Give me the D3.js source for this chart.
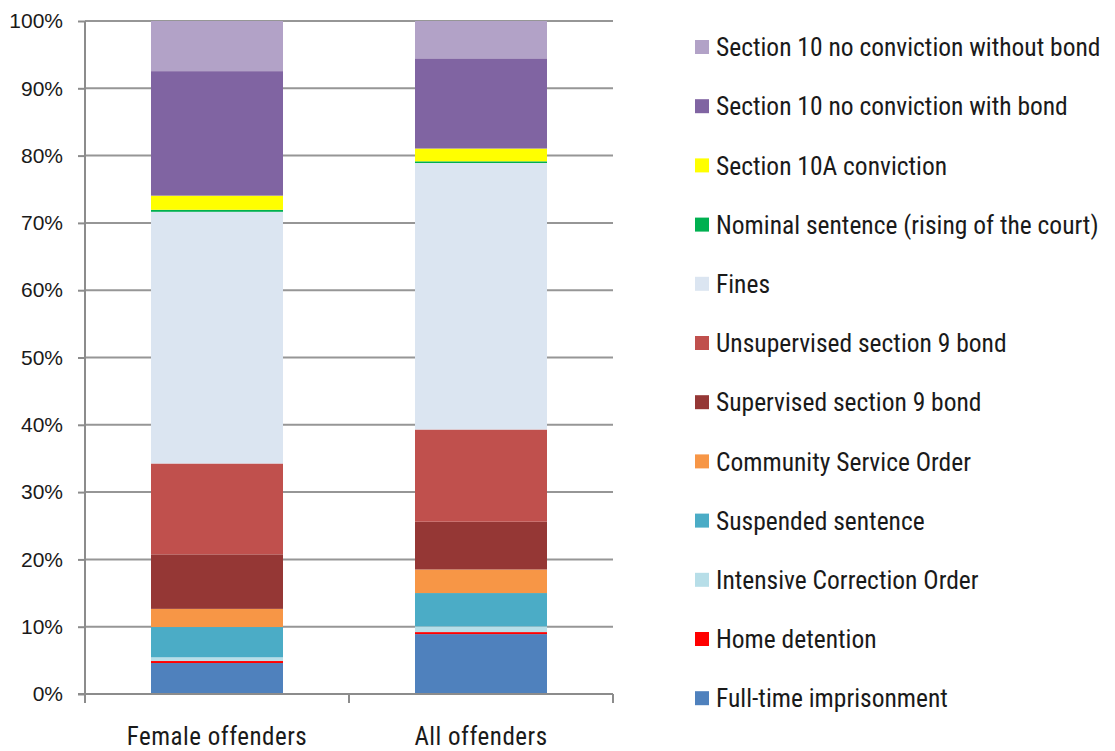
<!DOCTYPE html>
<html><head><meta charset="utf-8">
<script src="https://cdn.jsdelivr.net/npm/d3@7"></script>
<style>body{margin:0;background:#fff}svg{display:block}</style>
</head><body><svg id="c" width="1115" height="751"></svg>
<script>
const categories = ["Female offenders", "All offenders"];
const seriesNames = ["Full-time imprisonment","Home detention","Intensive Correction Order","Suspended sentence","Community Service Order","Supervised section 9 bond","Unsupervised section 9 bond","Fines","Nominal sentence (rising of the court)","Section 10A conviction","Section 10 no conviction with bond","Section 10 no conviction without bond"];
const seriesColors = ["#4F81BD","#FF0000","#B7DEE8","#4BACC6","#F79646","#953735","#C0504D","#DBE5F1","#00B050","#FFFF00","#8064A2","#B2A2C7"];
const femaleValues = [4.6, 0.3, 0.55, 4.5, 2.7, 8.1, 13.5, 37.4, 0.3, 2.1, 18.5, 7.45];
const allValues = [8.9, 0.3, 0.85, 4.95, 3.5, 7.1, 13.7, 39.6, 0.25, 1.9, 13.4, 5.55];
const yTicks = [0,10,20,30,40,50,60,70,80,90,100];

(function(){
const svg = d3.select("#c");
const pL = 85, pR = 613, pT = 21, pB = 694;
const x = d3.scaleBand().domain(categories).range([pL, pR]).paddingInner(0.5).paddingOuter(0.25);
const y = d3.scaleLinear().domain([0, 100]).range([pB, pT]);
const narrow = "'Roboto Condensed', 'Liberation Sans Narrow', sans-serif";

svg.append("g").selectAll("line").data(yTicks.filter(d => d > 0)).join("line")
  .attr("x1", pL).attr("x2", pR).attr("y1", d => y(d)).attr("y2", d => y(d))
  .attr("stroke", "#969696").attr("stroke-width", 2);

const rows = categories.map((c, i) => {
  const o = {cat: c};
  const vals = i === 0 ? femaleValues : allValues;
  seriesNames.forEach((s, j) => o[s] = vals[j]);
  return o;
});
const stack = d3.stack().keys(seriesNames)(rows);
const color = d3.scaleOrdinal().domain(seriesNames).range(seriesColors);

svg.append("g").selectAll("g").data(stack).join("g")
  .attr("fill", d => color(d.key))
  .selectAll("rect").data(d => d).join("rect")
  .attr("x", d => x(d.data.cat)).attr("width", x.bandwidth())
  .attr("y", d => y(d[1])).attr("height", d => y(d[0]) - y(d[1]));

const yAxis = d3.axisLeft(y).tickValues(yTicks).tickFormat(d => d + "%").tickSize(7).tickPadding(15);
const ga = svg.append("g").attr("transform", `translate(${pL},0)`).call(yAxis);
ga.select(".domain").attr("stroke", "#8c8c8c").attr("stroke-width", 2).attr("d", `M0,${pT}V${pB+9}`);
ga.selectAll(".tick line").attr("stroke", "#8c8c8c").attr("stroke-width", 2);
ga.selectAll(".tick text").attr("fill", "#1a1a1a").style("font-family", "Liberation Sans, Arial, sans-serif").style("font-size", "21px");

const xAxis = d3.axisBottom(x).tickSize(0).tickPadding(33);
const gx = svg.append("g").attr("transform", `translate(0,${pB})`).call(xAxis);
gx.select(".domain").attr("stroke", "#8c8c8c").attr("stroke-width", 2).attr("d", `M${pL-7},0H${pR}`);
gx.selectAll(".tick text").attr("fill", "#1a1a1a").style("font-family", narrow).style("font-size", "25px")
  .attr("letter-spacing", "0.5px");
const seps = [pL, (pL + pR) / 2, pR];
svg.append("g").selectAll("line").data(seps).join("line")
  .attr("x1", d => d).attr("x2", d => d).attr("y1", pB).attr("y2", pB + 9)
  .attr("stroke", "#8c8c8c").attr("stroke-width", 2);

const legendOrder = seriesNames.slice().reverse();
const lg = svg.append("g").selectAll("g").data(legendOrder).join("g")
  .attr("transform", (d, i) => `translate(695,${47 + i * 59.2})`);
lg.append("rect").attr("x", 0).attr("y", -7).attr("width", 14).attr("height", 14).attr("fill", d => color(d));
lg.append("text").attr("x", 21).attr("y", 0).attr("dy", "0.36em")
  .attr("fill", "#1a1a1a").style("font-family", narrow).style("font-size", "25.5px")
  .text(d => d);
})();
</script></body></html>
